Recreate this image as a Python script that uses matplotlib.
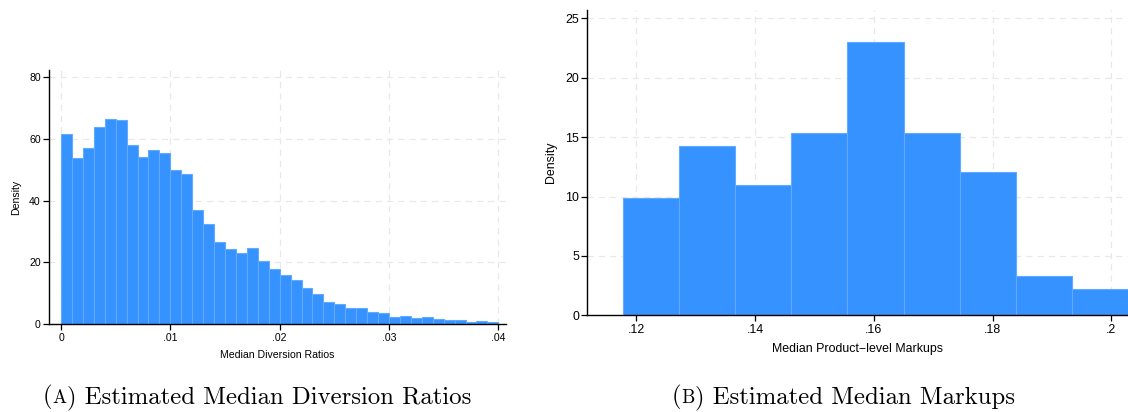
import numpy as np
import matplotlib
matplotlib.use("Agg")
import matplotlib.pyplot as plt

# density per bin, median diversion ratios (bin width .001 starting at 0)
div_start = 0.0
div_width = 0.001
div_density = [61.5, 53.7, 56.9, 63.7, 66.3, 66.0, 58.0, 54.2, 56.2, 55.3,
               49.9, 48.6, 37.1, 32.5, 26.7, 24.3, 22.9, 24.7, 20.3, 17.8,
               16.0, 14.4, 11.7, 9.7, 7.3, 6.6, 5.2, 5.4, 4.1, 3.7,
               2.5, 2.7, 2.0, 2.3, 1.7, 1.4, 1.4, 0.75, 1.2, 0.75]
div_xticks = [0, 0.01, 0.02, 0.03, 0.04]
div_xlabels = ["0", ".01", ".02", ".03", ".04"]
div_yticks = [0, 20, 40, 60, 80]

# density per bin, median product-level markups
mk_start = 0.11776
mk_width = 0.00945
mk_density = [9.87, 14.24, 10.96, 15.33, 22.98, 15.33, 12.05, 3.31, 2.21]
mk_xticks = [0.12, 0.14, 0.16, 0.18, 0.2]
mk_xlabels = [".12", ".14", ".16", ".18", ".2"]
mk_yticks = [0, 5, 10, 15, 20, 25]

plt.rcParams['font.family'] = ['Liberation Sans', 'DejaVu Sans']

bar_color = '#3592ff'
edge_color = '#62aaff'
grid_kw = dict(color='#e8e8e8', linestyle=(0, (5, 4)), linewidth=0.9)

fig = plt.figure(figsize=(11.28, 4.12), dpi=100)
W, H = 1128.0, 412.0


def panel(rect, start, width, dens, xticks, xlabels, yticks, xlim, ylim,
          xlabel, fs, labelpad):
    ax = fig.add_axes(rect)
    n = len(dens)
    edges = start + width * np.arange(n + 1)
    ax.hist(edges[:-1] + width / 2, bins=edges, weights=dens,
            color=bar_color, edgecolor=edge_color, linewidth=0.8)
    ax.set_xlim(*xlim)
    ax.set_ylim(*ylim)
    ax.set_xticks(xticks)
    ax.set_xticklabels(xlabels)
    ax.set_yticks(yticks)
    ax.set_axisbelow(True)
    ax.grid(True, **grid_kw)
    for s in ['top', 'right']:
        ax.spines[s].set_visible(False)
    for s in ['left', 'bottom']:
        ax.spines[s].set_linewidth(1.0)
        ax.spines[s].set_color('black')
    ax.tick_params(labelsize=fs, length=4, width=0.9, pad=2, colors='black')
    ax.set_xlabel(xlabel, fontsize=fs, labelpad=labelpad)
    ax.set_ylabel("Density", fontsize=fs, labelpad=labelpad + 1)
    return ax


# left panel: diversion ratios
axA = panel([49 / W, 1 - 324.3 / H, 457 / W, 254.3 / H],
            div_start, div_width, div_density, div_xticks, div_xlabels,
            div_yticks, (-0.0011, 0.0407), (0, 82.2),
            "Median Diversion Ratios", 7.6, 5)

# right panel: markups
axB = panel([587.3 / W, 1 - 315.3 / H, 540.7 / W, 305.3 / H],
            mk_start, mk_width, mk_density, mk_xticks, mk_xlabels,
            mk_yticks, (0.11176, 0.2028), (0, 25.7),
            "Median Product\u2212level Markups", 8.9, 5)


# subfigure captions: "(A)" with the letter set as a small capital
def caption(x, letter, rest):
    y = 1 - 403 / H
    t1 = fig.text(x / W, y, "(", family='cmr10', fontsize=17.8, va='baseline')
    t2 = plt.annotate(letter, xy=(1, y), xycoords=(t1, 'figure fraction'),
                      family='cmr10', fontsize=13.5, va='baseline', ha='left')
    plt.annotate(rest, xy=(1, y), xycoords=(t2, 'figure fraction'),
                 family='cmr10', fontsize=17.8, va='baseline', ha='left')


caption(43, "A", ") Estimated Median Diversion Ratios")
caption(672, "B", ") Estimated Median Markups")

fig.savefig("out.png", dpi=100)
